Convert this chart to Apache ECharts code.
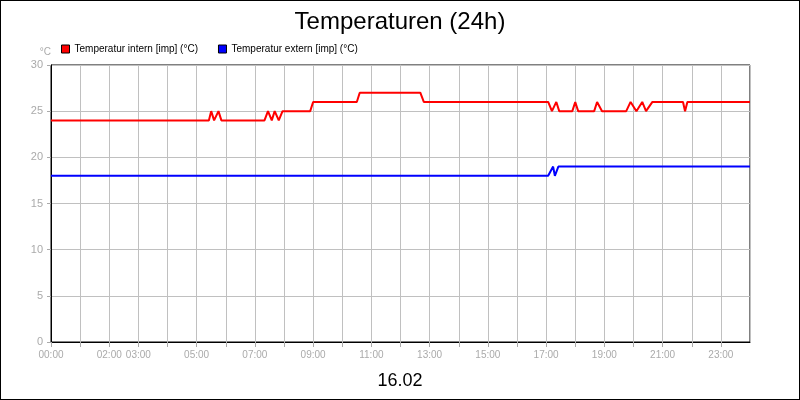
<!DOCTYPE html>
<html><head><meta charset="utf-8">
<script src="https://cdn.jsdelivr.net/npm/echarts@6/dist/echarts.min.js"></script>
<style>html,body{margin:0;padding:0;background:#fff}#c{width:798px;height:398px;border:1px solid #000}</style>
</head><body><div id="c"></div>
<script>
const xLabels = {0:'00:00',2:'02:00',3:'03:00',5:'05:00',7:'07:00',9:'09:00',11:'11:00',13:'13:00',15:'15:00',17:'17:00',19:'19:00',21:'21:00',23:'23:00'};
const internTimes = [0,5.42,5.5,5.6,5.75,5.85,7.33,7.45,7.58,7.68,7.82,7.95,8.9,9.0,10.5,10.6,12.68,12.8,17.07,17.2,17.35,17.45,17.9,18.0,18.1,18.65,18.75,18.92,19.75,19.9,20.1,20.3,20.43,20.65,21.7,21.77,21.85,24];
const internVals  = [24,24,25,24,25,24,24,25,24,25,24,25,25,26,26,27,27,26,26,25,26,25,25,26,25,25,26,25,25,26,25,26,25,26,26,25,26,26];
const externTimes = [0,17.07,17.24,17.3,17.42,24];
const externVals  = [18,18,19,18,19,19];
const pair=(t,v)=>t.map((x,i)=>[x,v[i]]);
const grey='#aaa';
const chart=echarts.init(document.getElementById('c'));
chart.setOption({
  animation:false,
  textStyle:{fontFamily:'Liberation Sans'},
  title:[{text:'Temperaturen (24h)',left:'center',top:4,textStyle:{fontSize:24,fontWeight:'normal',color:'#000'}},
         {text:'16.02',left:'center',top:366,textStyle:{fontSize:18,fontWeight:'normal',color:'#000'}}],
  legend:{left:55,top:38,itemWidth:8,itemHeight:8,itemGap:20,icon:'rect',textStyle:{fontSize:10,color:'#000'},
    data:[{name:'Temperatur intern [imp] (°C)',itemStyle:{borderColor:'#000',borderWidth:1}},{name:'Temperatur extern [imp] (°C)',itemStyle:{borderColor:'#000',borderWidth:1}}]},
  grid:{left:50,right:49,top:64,bottom:57,show:true,borderColor:'#000',borderWidth:1},
  xAxis:{type:'value',min:0,max:24,interval:1,
    axisLine:{lineStyle:{color:'#000'}},axisTick:{show:true,length:5,lineStyle:{color:grey}},
    axisLabel:{color:grey,fontSize:10,formatter:v=>xLabels[v]||'',showMaxLabel:false},
    splitLine:{show:true,lineStyle:{color:'#c0c0c0'}}},
  yAxis:{type:'value',min:0,max:30,interval:5,name:'°C',nameGap:8,nameTextStyle:{color:grey,fontSize:10,align:'right'},
    axisLine:{show:true,lineStyle:{color:'#000'}},axisTick:{show:true,length:4,lineStyle:{color:grey}},
    axisLabel:{color:grey,fontSize:11},splitLine:{lineStyle:{color:'#c0c0c0'}}},
  series:[
    {name:'Temperatur intern [imp] (°C)',type:'line',data:pair(internTimes,internVals),symbol:'none',color:'#ff0000',lineStyle:{width:2}},
    {name:'Temperatur extern [imp] (°C)',type:'line',data:pair(externTimes,externVals),symbol:'none',color:'#0000ff',lineStyle:{width:2}}
  ]
});
</script></body></html>
